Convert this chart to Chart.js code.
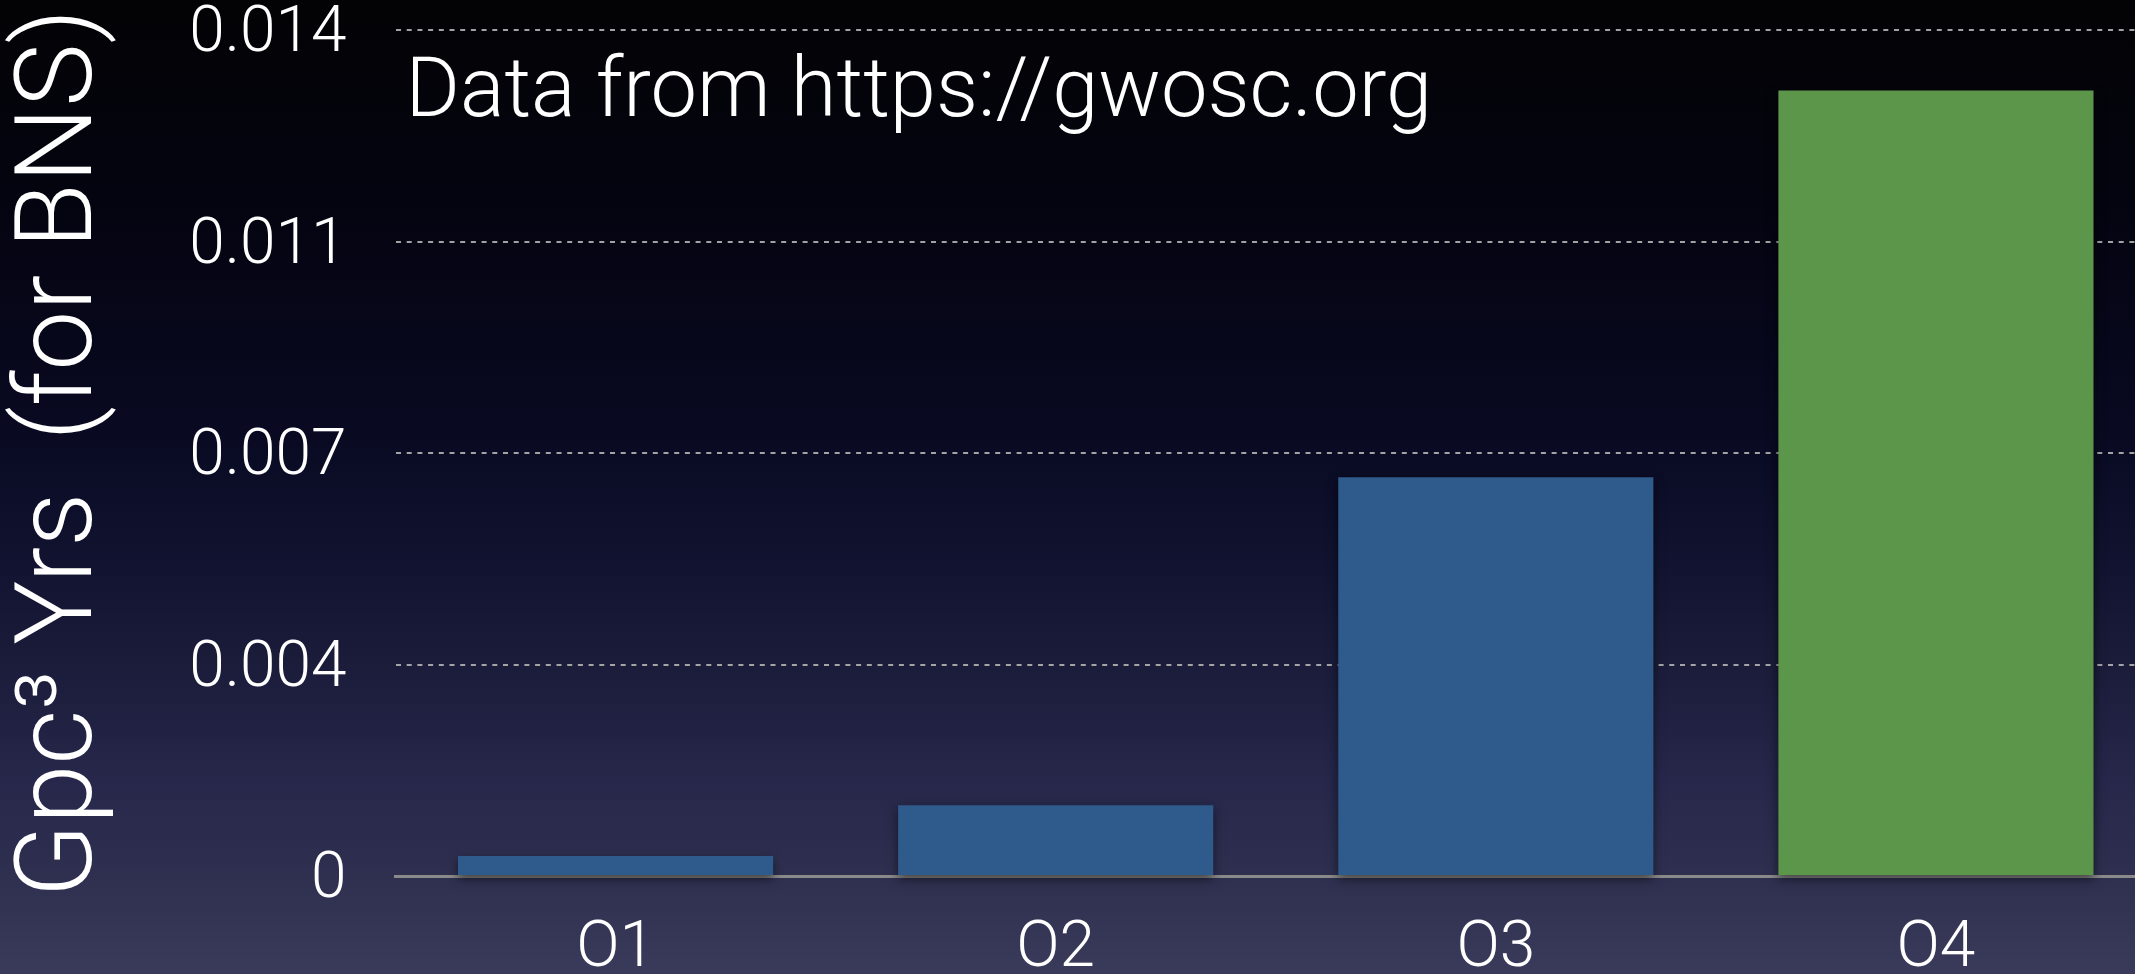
<!DOCTYPE html>
<html>
<head>
<meta charset="utf-8">
<title>Observing runs - BNS volume-time</title>
<script src="https://cdn.jsdelivr.net/npm/chart.js@4/dist/chart.umd.min.js"></script>
<style>
  html, body { margin: 0; padding: 0; overflow: hidden; }
  body {
    width: 2135px; height: 974px;
    background: linear-gradient(to bottom,
      #030305 0%, #040410 20%, #06071a 35%, #0a0b24 47%, #121330 58%,
      #1b1c3a 68%, #26274a 80%, #2f3050 90%, #3a3a5a 100%);
  }
  #wrap { position: absolute; left: 0; top: 0; }
</style>
</head>
<body>
<div id="wrap"><canvas id="runsChart" width="2156" height="974"></canvas></div>
<script>
// observing runs and their BNS volume-time (Gpc^3 yr)
const runs = ['O1', 'O2', 'O3', 'O4'];
const volumeTime = [0.00033, 0.00117, 0.0066, 0.0130];

// y axis ticks sit every 0.0035, labels are shown rounded to 3 places
const yTickValues = [0, 0.0035, 0.007, 0.0105, 0.014];
const yTickLabels = ['0', '0.004', '0.007', '0.011', '0.014'];

const yTitle = 'Gpc\u00b3 Yrs  (for BNS)';
const sourceNote = 'Data from https://gwosc.org';

const FONT = 'Roboto, "Helvetica Neue", Arial, sans-serif';
const BLUE = '#2e5a8c';
const GREEN = '#5c964a';
const currentRun = 'O4';

// soft drop shadow under the bars
const barShadow = {
  id: 'barShadow',
  beforeDatasetsDraw(chart) {
    const ctx = chart.ctx;
    ctx.save();
    ctx.shadowColor = 'rgba(0,0,0,0.55)';
    ctx.shadowBlur = 10;
    ctx.shadowOffsetY = 4;
  },
  afterDatasetsDraw(chart) {
    chart.ctx.restore();
  }
};

// data source note in the upper left of the plot
const noteText = {
  id: 'noteText',
  afterDatasetsDraw(chart) {
    const {ctx, chartArea} = chart;
    ctx.save();
    ctx.font = '300 83px ' + FONT;
    ctx.fillStyle = '#ffffff';
    ctx.textAlign = 'left';
    ctx.textBaseline = 'alphabetic';
    ctx.fillText(sourceNote, chartArea.left + 10, chartArea.top + 86);
    ctx.restore();
  }
};

new Chart(document.getElementById('runsChart'), {
  type: 'bar',
  data: {
    labels: runs,
    datasets: [{
      data: volumeTime,
      backgroundColor: runs.map(r => r === currentRun ? GREEN : BLUE),
      borderWidth: 0,
      barPercentage: 0.716,
      categoryPercentage: 1.0,
      clip: false
    }]
  },
  options: {
    responsive: false,
    animation: false,
    layout: { padding: { top: 30, right: 0, bottom: 0, left: 0 } },
    plugins: {
      legend: { display: false },
      tooltip: { enabled: false }
    },
    scales: {
      x: {
        offset: true,
        grid: { display: false, drawTicks: false },
        border: { display: true, color: '#8a8a8a', width: 3 },
        ticks: {
          color: '#ffffff',
          padding: 36,
          font: { family: FONT, size: 64, weight: 300 }
        },
        afterFit(scale) {
          scale.height = 98;
          scale.paddingLeft = 0;
          scale.paddingRight = 0;
        }
      },
      y: {
        min: 0,
        max: 0.014,
        afterBuildTicks(scale) {
          scale.ticks = yTickValues.map(v => ({ value: v }));
        },
        grid: {
          drawTicks: false,
          lineWidth: 2,
          color: ctx => ctx.tick && ctx.tick.value === 0 ? 'rgba(0,0,0,0)' : 'rgba(180,180,180,0.9)'
        },
        border: { display: false, dash: [5, 5.7] },
        ticks: {
          color: '#ffffff',
          padding: 49,
          labelOffset: 5,
          font: { family: FONT, size: 64, weight: 300 },
          callback: (value, index) => yTickLabels[index]
        },
        title: {
          display: true,
          text: yTitle,
          color: '#ffffff',
          font: { family: FONT, size: 107, weight: 300 },
          padding: { top: 0, bottom: 0 }
        },
        afterFit(scale) {
          scale.width = 395.5;
          scale.paddingTop = 0;
          scale.paddingBottom = 0;
        }
      }
    }
  },
  plugins: [barShadow, noteText]
});
</script>
</body>
</html>
